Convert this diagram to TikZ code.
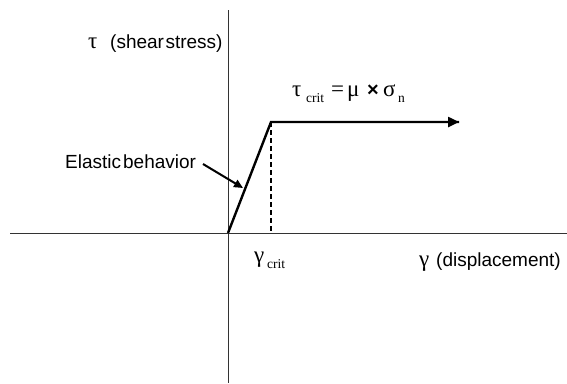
\documentclass[tikz,border=0pt]{standalone}
\usepackage{fontspec}
\setmainfont{Liberation Sans}
\newfontfamily\serifgr{Liberation Serif}
\usetikzlibrary{arrows.meta}
\newcommand{\subsz}{\fontsize{13.5}{14}\selectfont}
\begin{document}
\begin{tikzpicture}[x=1pt,y=-1pt,
  axis/.style={draw=black!80,line width=0.9pt},
  thick line/.style={draw=black,line width=2.4pt},
  lbl/.style={inner sep=0pt,font=\fontsize{19}{22}\selectfont},
  sym/.style={inner sep=0pt,font=\serifgr\fontsize{23}{24}\selectfont}]
\useasboundingbox (0,0) rectangle (567,383);
% axes
\coordinate (yt) at (228,10);
\coordinate (yb) at (228,383);
\coordinate (xl) at (10,233);
\coordinate (xr) at (567,233);
\draw[axis] (yt) -- (yb);
\draw[axis] (xl) -- (xr);
% curve
\coordinate (o) at (228,233);
\coordinate (k) at (271,122);
\coordinate (e) at (459,122);
\coordinate (kb) at (271,233);
\draw[thick line,line join=miter] (o) -- (k) -- (e);
\draw[-{Triangle[length=11pt,width=10pt]},line width=2.4pt] (440,122) -- (e);
\draw[dashed,line width=1.5pt,dash pattern=on 5pt off 3pt] (k) -- (kb);
% labels
\node[lbl,anchor=base west] (tau) at (88,48) {\makebox[22pt][l]{\serifgr\fontsize{23}{24}\selectfont τ}(shear\hspace{1.5pt}stress)};
\node[sym,anchor=base west] (eq) at (292,96) {\makebox[14pt][l]{τ}\makebox[25pt][l]{\raisebox{-6pt}{\subsz crit}}\makebox[16pt][l]{=}\makebox[20pt][l]{μ}\makebox[16pt][l]{\fontspec{Liberation Sans}\bfseries\fontsize{20}{20}\selectfont ×}\makebox[15pt][l]{σ}\raisebox{-6pt}{\subsz n}};
\node[lbl,anchor=base west] (el) at (65,168) {Elastic\hspace{2pt}behavior};
\coordinate (eltip) at (243,188);
\draw[-{Triangle[length=9pt,width=8pt]},line width=2pt] (203,164) -- (eltip);
\node[sym,anchor=base west] (gc) at (254,262) {\makebox[13pt][l]{γ}\raisebox{-6pt}{\subsz crit}};
\node[lbl,anchor=base west] (gd) at (419,266) {\makebox[17pt][l]{\serifgr\fontsize{23}{24}\selectfont γ}(displacement)};
\end{tikzpicture}
\end{document}
